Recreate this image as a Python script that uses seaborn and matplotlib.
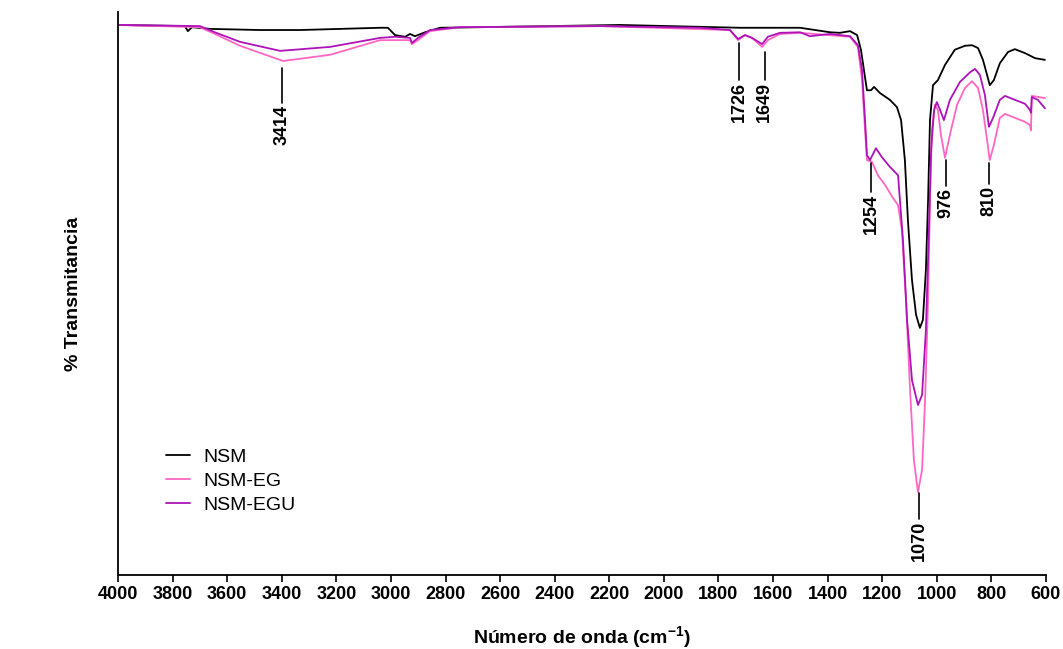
import pandas as pd
import matplotlib.pyplot as plt
import seaborn as sns

# NSM (black)
nsm_wn = [4000, 3755, 3744, 3729, 3663, 3480, 3333, 3040, 3011, 2985, 2948, 2930, 2912, 2875,
          2820, 2674, 2161, 1721, 1501, 1391, 1355, 1318, 1292, 1278, 1267, 1256, 1241, 1230,
          1208, 1172, 1146, 1131, 1117, 1106, 1091, 1076, 1062, 1051, 1040, 1032, 1025, 1014,
          996, 970, 934, 897, 871, 849, 831, 813, 806, 791, 769, 739, 714, 677, 640, 604]
nsm_t = [97.7, 97.5, 96.6, 97.3, 97.0, 96.8, 96.8, 97.2, 97.2, 95.9, 95.6, 96.1, 95.7, 96.4,
         97.2, 97.3, 97.7, 97.2, 97.2, 96.4, 96.3, 96.6, 95.9, 93.3, 89.7, 86.1, 86.1, 86.7,
         85.6, 84.4, 83.1, 80.8, 73.7, 63.1, 52.4, 46.2, 43.9, 45.3, 54.2, 66.6, 80.8, 87.0,
         87.9, 90.6, 93.3, 94.0, 94.1, 93.6, 91.5, 88.3, 87.0, 87.9, 90.9, 92.9, 93.4, 92.7, 91.8, 91.5]

# NSM-EG (pink)
eg_wn = [4000, 3700, 3645, 3553, 3395, 3223, 3040, 2985, 2930, 2923, 2901, 2857, 2747, 2234,
         1758, 1728, 1703, 1677, 1640, 1619, 1575, 1501, 1318, 1289, 1274, 1263, 1256, 1238,
         1216, 1190, 1161, 1142, 1128, 1113, 1098, 1084, 1069, 1054, 1043, 1032, 1025, 1018,
         1007, 996, 985, 970, 952, 926, 897, 871, 849, 831, 816, 806, 791, 769, 750, 714, 677,
         659, 655, 652, 626, 604]
eg_t = [97.7, 97.3, 96.1, 94.0, 91.3, 92.4, 95.0, 95.0, 95.0, 94.3, 95.0, 96.6, 97.3, 97.5,
        96.8, 95.0, 95.9, 95.4, 93.8, 95.0, 96.1, 96.3, 95.6, 93.8, 87.9, 79.0, 73.7, 73.4,
        71.0, 69.3, 67.0, 65.7, 61.3, 48.8, 32.9, 20.4, 14.7, 18.7, 31.1, 48.8, 66.6, 79.0,
        83.5, 82.6, 78.2, 74.1, 78.2, 83.5, 86.5, 87.7, 86.5, 82.6, 77.3, 73.7, 76.4, 81.2, 81.9,
        81.2, 80.5, 79.9, 79.0, 85.1, 84.9, 84.7]

# NSM-EGU (purple)
egu_wn = [4000, 3700, 3645, 3553, 3406, 3223, 3040, 2985, 2930, 2923, 2901, 2857, 2747, 2234,
          1868, 1758, 1728, 1703, 1677, 1640, 1619, 1575, 1501, 1465, 1391, 1318, 1289, 1274,
          1263, 1256, 1245, 1223, 1201, 1172, 1142, 1124, 1109, 1091, 1069, 1054, 1040, 1029,
          1021, 1010, 1000, 988, 974, 952, 915, 878, 860, 842, 824, 809, 794, 769, 750, 714,
          677, 659, 655, 652, 630, 604]
egu_t = [97.7, 97.5, 96.4, 94.7, 93.1, 93.8, 95.4, 95.6, 95.4, 94.5, 95.4, 96.8, 97.3, 97.5,
         97.2, 96.8, 95.2, 95.9, 95.4, 94.3, 95.6, 96.3, 96.4, 95.7, 96.1, 95.7, 94.1, 89.7,
         80.8, 74.6, 73.7, 75.8, 74.2, 72.5, 71.0, 59.5, 45.3, 34.6, 30.2, 32.0, 43.5, 61.3,
         75.5, 82.6, 84.0, 82.6, 80.8, 84.4, 87.6, 89.3, 89.9, 88.8, 85.3, 79.6, 81.2, 84.4,
         85.1, 84.4, 83.7, 82.6, 82.1, 84.9, 84.4, 82.9]

# peak labels: text, x, line top, line bottom
peak_labels = ["3414", "1726", "1649", "1254", "976", "810", "1070"]
peak_x = [3400, 1725, 1630, 1241, 966, 809, 1065]
peak_top = [90.1, 94.5, 92.9, 73.2, 73.7, 73.2, 14.6]
peak_bottom = [83.8, 87.9, 87.9, 68.0, 69.1, 69.4, 9.9]

df = pd.concat([
    pd.DataFrame({"wn": nsm_wn, "T": nsm_t, "muestra": "NSM"}),
    pd.DataFrame({"wn": eg_wn, "T": eg_t, "muestra": "NSM-EG"}),
    pd.DataFrame({"wn": egu_wn, "T": egu_t, "muestra": "NSM-EGU"}),
])

sns.set_style("white")
plt.rcParams["font.family"] = ["Liberation Sans", "DejaVu Sans"]
plt.rcParams["mathtext.fontset"] = "custom"
plt.rcParams["mathtext.rm"] = "Liberation Sans:bold"
plt.rcParams["mathtext.default"] = "rm"
plt.rcParams["text.color"] = "black"
plt.rcParams["axes.labelcolor"] = "black"
plt.rcParams["xtick.color"] = "black"

fig = plt.figure(figsize=(10.63, 6.49), dpi=100)
ax = fig.add_axes([0.111, 0.114, 0.873, 0.8675])

palette = {"NSM": "black", "NSM-EG": "#ff66c4", "NSM-EGU": "#ad13b8"}
sns.lineplot(data=df, x="wn", y="T", hue="muestra", palette=palette, sort=False,
             estimator=None, linewidth=1.3, ax=ax)

for lab, x, top, bot in zip(peak_labels, peak_x, peak_top, peak_bottom):
    ax.plot([x, x], [top, bot], color="black", lw=1.2)
    ax.text(x, bot - 0.3, lab, rotation=90, ha="center", va="top",
            fontsize=13, fontweight="bold")

ax.set_xlim(4000, 600)
ax.set_ylim(0, 100)
ax.set_xticks(range(4000, 599, -200))
ax.set_yticks([])
ax.tick_params(axis="x", length=5, width=1.2, direction="out", bottom=True, labelsize=13, pad=3)
for t in ax.get_xticklabels():
    t.set_fontweight("bold")
for s in ["top", "right"]:
    ax.spines[s].set_visible(False)
for s in ["left", "bottom"]:
    ax.spines[s].set_linewidth(1.3)
    ax.spines[s].set_color("black")

ax.set_xlabel(r"Número de onda (cm$^{-1}$)", fontsize=14, fontweight="bold", labelpad=15)
ax.set_ylabel("% Transmitancia", fontsize=14, fontweight="bold", labelpad=26)

ax.legend(title=None, loc="upper left", bbox_to_anchor=(0.052, 0.225), frameon=False,
          fontsize=14, handlelength=1.2, handletextpad=0.7, labelspacing=0.33,
          borderpad=0, borderaxespad=0)

fig.savefig("out.png", dpi=100)
